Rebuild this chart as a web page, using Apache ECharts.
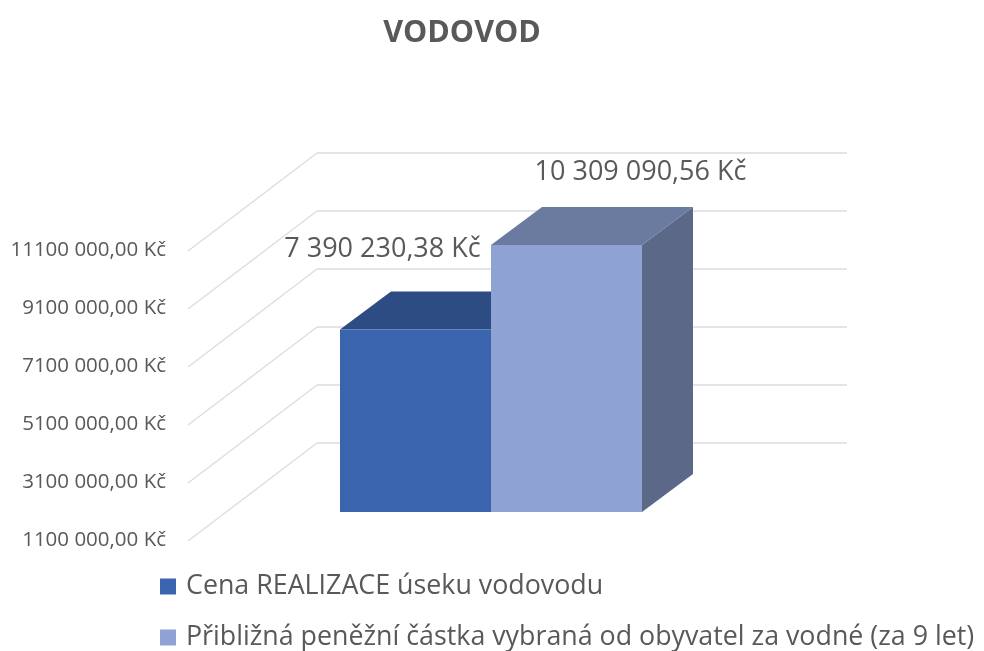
<!DOCTYPE html>
<html>
<head>
<meta charset="utf-8">
<style>html,body{margin:0;padding:0;background:#fff;overflow:hidden}#c{width:984px;height:651px}</style>
<script src="https://cdn.jsdelivr.net/npm/echarts@6/dist/echarts.min.js"></script>
</head>
<body>
<div id="c"></div>
<script>
var titleText = 'VODOVOD';
var categories = ['Vodovod'];
var seriesNames = ['Cena REALIZACE úseku vodovodu', 'Přibližná peněžní částka vybraná od obyvatel za vodné (za 9 let)'];
var realizationValues = [7390230.38];
var collectedValues = [10309090.56];
var axisTicks = [1100000, 3100000, 5100000, 7100000, 9100000, 11100000];

var FONT = '"Open Sans", sans-serif';
var TEXT = '#595959';
var WALL = [127, -97];      // offset of back wall from front plane
var BAR_SHIFT = [36, -28];  // offset of bar front from front plane
var BAR_DEPTH = [51, -38];
var BAR_W = 151;

function fmtMoney(v) {
  var s = v.toFixed(2).split('.');
  var i = s[0];
  var head = i.slice(0, -3), tail = i.slice(-3);
  return head + ' ' + tail + ',' + s[1] + ' Kč';
}
function fmtData(v) {
  var i = v.toFixed(2).split('.');
  return i[0].replace(/\B(?=(\d{3})+$)/g, ' ') + ',' + i[1] + ' Kč';
}

function box(side, colors, labelOffset) {
  return function (params, api) {
    var v = api.value(1);
    var cat = api.value(0);
    var top = api.coord([cat, v]);
    var base = api.coord([cat, axisTicks[0]]);
    var xL = top[0] + BAR_SHIFT[0] + (side < 0 ? -BAR_W : 0);
    var xR = xL + BAR_W;
    var yT = top[1] + BAR_SHIFT[1];
    var yB = base[1] + BAR_SHIFT[1];
    var dx = BAR_DEPTH[0], dy = BAR_DEPTH[1];
    return {
      type: 'group',
      children: [
        { type: 'polygon', shape: { points: [[xR, yT], [xR + dx, yT + dy], [xR + dx, yB + dy], [xR, yB]] }, style: { fill: colors.side } },
        { type: 'polygon', shape: { points: [[xL, yT], [xL + dx, yT + dy], [xR + dx, yT + dy], [xR, yT]] }, style: { fill: colors.top } },
        { type: 'rect', shape: { x: xL, y: yT, width: BAR_W, height: yB - yT }, style: { fill: colors.front } },
        { type: 'text', z2: 10, style: {
            x: (xL + xR) / 2 + labelOffset[0], y: yT + labelOffset[1],
            text: fmtData(v), fill: TEXT, font: '27px ' + FONT, align: 'center', verticalAlign: 'middle' } }
      ]
    };
  };
}

var chart = echarts.init(document.getElementById('c'), null, { renderer: 'canvas' });
chart.setOption({
  animation: false,
  backgroundColor: '#fff',
  title: {
    text: titleText, left: 457, top: 13, textAlign: 'center',
    textStyle: { color: TEXT, fontFamily: FONT, fontWeight: 'bold', fontSize: 30.5 }
  },
  legend: {
    data: seriesNames, orient: 'vertical', left: 155, top: 568, height: 140, itemWidth: 16, itemHeight: 16,
    itemGap: 24, icon: 'rect', selectedMode: false,
    textStyle: { color: TEXT, fontFamily: FONT, fontSize: 26.8, padding: [0, 0, 0, 5] }
  },
  grid: [
    { left: 190, width: 530, top: 250, height: 290 },
    { left: 317, width: 530, top: 153, height: 290 }
  ],
  xAxis: [
    { type: 'category', gridIndex: 0, data: categories, show: false },
    { type: 'category', gridIndex: 1, data: categories, show: false }
  ],
  yAxis: [
    {
      type: 'value', gridIndex: 0, min: axisTicks[0], max: axisTicks[axisTicks.length - 1],
      axisLine: { show: false }, axisTick: { show: false, customValues: axisTicks }, splitLine: { show: false },
      axisLabel: {
        customValues: axisTicks, margin: 24, color: TEXT, fontFamily: FONT, fontSize: 20.5,
        formatter: function (v) { return fmtMoney(v); }
      }
    },
    {
      type: 'value', gridIndex: 1, min: axisTicks[0], max: axisTicks[axisTicks.length - 1],
      axisLine: { show: false }, axisLabel: { show: false },
      axisTick: { show: false, customValues: axisTicks },
      splitLine: { show: true, lineStyle: { color: '#E4E4E4', width: 2 } }
    }
  ],
  series: [
    {
      type: 'custom', name: 'walls', xAxisIndex: 0, yAxisIndex: 0, silent: true, clip: false, z: 1,
      data: axisTicks.map(function (t) { return [categories[0], t]; }),
      renderItem: function (params, api) {
        var p = api.coord([api.value(0), api.value(1)]);
        var grid = params.coordSys;
        return {
          type: 'line',
          shape: { x1: grid.x - 2, y1: p[1] + 1, x2: grid.x + WALL[0], y2: p[1] + WALL[1] },
          style: { stroke: '#DEDEDE', lineWidth: 1.5 }
        };
      }
    },
    {
      type: 'custom', name: seriesNames[0], xAxisIndex: 0, yAxisIndex: 0, clip: false, z: 3,
      itemStyle: { color: '#3A64AD' },
      data: realizationValues.map(function (v, i) { return [categories[i], v]; }),
      renderItem: box(-1, { front: '#3A64AD', top: '#2C4C83', side: '#2C4A80' }, [-33, -80])
    },
    {
      type: 'custom', name: seriesNames[1], xAxisIndex: 0, yAxisIndex: 0, clip: false, z: 4,
      itemStyle: { color: '#8FA2D4' },
      data: collectedValues.map(function (v, i) { return [categories[i], v]; }),
      renderItem: box(1, { front: '#8FA2D4', top: '#6B7BA0', side: '#5C6888' }, [74, -73])
    }
  ]
});
</script>
</body>
</html>
